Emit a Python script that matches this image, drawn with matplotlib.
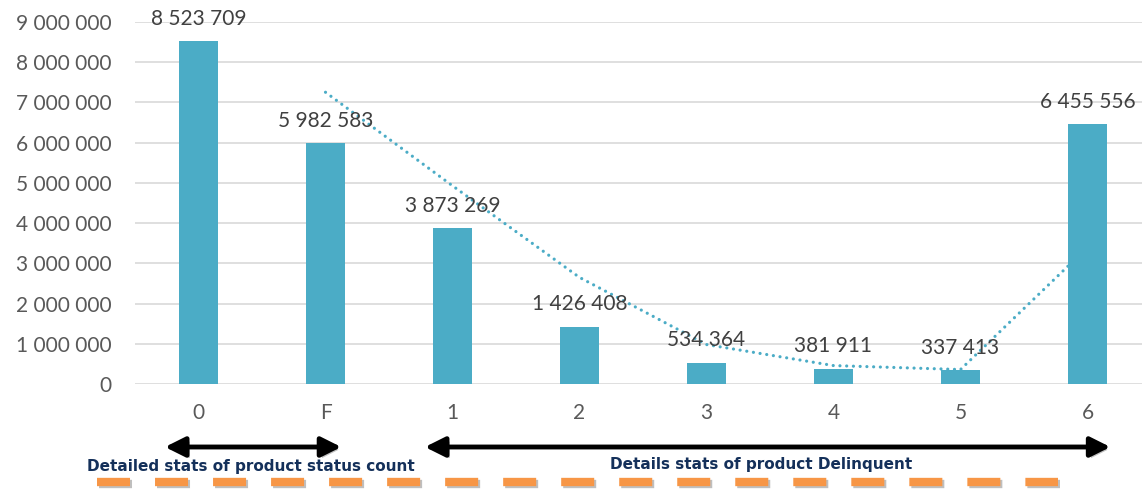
import numpy as np
import matplotlib
matplotlib.use("Agg")
from matplotlib import pyplot as plt
from matplotlib import patheffects as pe
from matplotlib.patches import FancyArrowPatch
from matplotlib.transforms import blended_transform_factory


# status categories and how many products sit in each
categories = ["0", "F", "1", "2", "3", "4", "5", "6"]
counts = [8523709, 5982583, 3873269, 1426408, 534364, 381911, 337413, 6455556]
y_ticks = [0, 1000000, 2000000, 3000000, 4000000, 5000000, 6000000, 7000000, 8000000, 9000000]

group_status = "Detailed stats of product status count"
group_delinquent = "Details stats of product Delinquent"

bar_color = "#4BACC6"
grey_text = "#595959"
navy = "#14305a"


def spaced(v):
    # 8523709 -> "8 523 709"
    return f"{v:,}".replace(",", " ")


x = np.arange(len(categories))
# 2-period moving average trendline (starts at the second category)
moving_avg = (np.array(counts[1:]) + np.array(counts[:-1])) / 2.0

W, H = 1142, 495
fig = plt.figure(figsize=(W / 100, H / 100), dpi=100)
ax = fig.add_axes([135 / W, (H - 384) / H, 1 - 135 / W, 362 / H])

ax.set_axisbelow(True)
ax.grid(axis="y", color="#D9D9D9", linewidth=1.2)
for s in ax.spines.values():
    s.set_visible(False)

ax.plot(x[1:], moving_avg, color=bar_color, linewidth=2.3,
        linestyle=(0, (0.01, 2.1)), dash_capstyle="round", zorder=1)
bars = ax.bar(x, counts, width=0.31, color=bar_color, zorder=2)

for xi, v in zip(x, counts):
    ax.annotate(spaced(v), (xi, v), xytext=(0, 9), textcoords="offset points",
                ha="center", va="bottom", fontsize=15, color="#404040",
                family="Lato", zorder=3, annotation_clip=False)

ax.set_xlim(-0.5, 7.5 - 9 / 127)
ax.set_ylim(0, 9000000)
ax.set_yticks(y_ticks)
ax.set_yticklabels([spaced(t) for t in y_ticks])
ax.set_xticks(x)
ax.set_xticklabels(categories)
ax.tick_params(axis="both", length=0, colors=grey_text, labelsize=15)
ax.tick_params(axis="y", pad=17)
ax.tick_params(axis="x", pad=14)
for lbl in ax.get_xticklabels() + ax.get_yticklabels():
    lbl.set_family("Lato")

# group arrows and captions under the category axis
trans = blended_transform_factory(ax.transData, fig.transFigure)
shadow = [pe.SimplePatchShadow(offset=(2, -2), alpha=0.25), pe.Normal()]
arrow_y = 1 - 447 / H
for x0, x1 in [(-0.264, 1.124), (1.783, 7.18)]:
    arr = FancyArrowPatch((x0, arrow_y), (x1, arrow_y), transform=trans,
                          arrowstyle="<|-|>,head_length=10,head_width=5",
                          mutation_scale=1.2, linewidth=3.5, color="black",
                          shrinkA=0, shrinkB=0, clip_on=False)
    arr.set_path_effects(shadow)
    fig.add_artist(arr)

fig.text(251 / W, 1 - 467 / H, group_status, ha="center", va="center",
         fontsize=11, fontweight="bold", color=navy, family="DejaVu Sans")
fig.text(761 / W, 1 - 465 / H, group_delinquent, ha="center", va="center",
         fontsize=11, fontweight="bold", color=navy, family="DejaVu Sans")

# orange dashed rule along the bottom
fig.add_artist(plt.Line2D([97 / W, 1058 / W], [1 - 482 / H] * 2,
                          transform=fig.transFigure, color="#F79646",
                          linewidth=6, linestyle=(0, (33 / 8.33, 25 / 8.33)),
                          solid_capstyle="butt", dash_capstyle="butt",
                          path_effects=[pe.SimpleLineShadow(offset=(1.5, -1.5), alpha=0.25),
                                        pe.Normal()]))

fig.savefig("out.png", dpi=100)
